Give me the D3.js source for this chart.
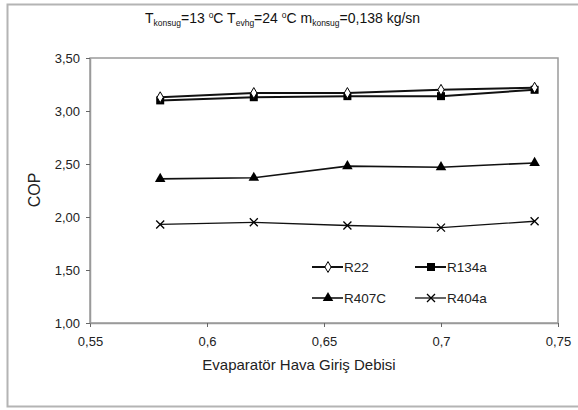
<!DOCTYPE html>
<html><head><meta charset="utf-8">
<script src="https://cdn.jsdelivr.net/npm/d3@7"></script>
<style>body{margin:0;background:#fff}svg{display:block;font-family:Arial,"Liberation Sans",sans-serif}</style>
</head><body>
<svg id="c" width="578" height="410"></svg>
<script>
const xValues = [0.58, 0.62, 0.66, 0.70, 0.74];
const r22 = [3.13, 3.17, 3.17, 3.20, 3.22];
const r134a = [3.10, 3.13, 3.14, 3.14, 3.20];
const r407c = [2.36, 2.37, 2.48, 2.47, 2.51];
const r404a = [1.93, 1.95, 1.92, 1.90, 1.96];
const xTicks = [0.55, 0.6, 0.65, 0.7, 0.75];
const xTickLabels = ["0,55", "0,6", "0,65", "0,7", "0,75"];
const yTicks = [1.0, 1.5, 2.0, 2.5, 3.0, 3.5];
const yTickLabels = ["1,00", "1,50", "2,00", "2,50", "3,00", "3,50"];
const seriesNames = ["R22", "R134a", "R407C", "R404a"];

const svg = d3.select("#c");
const L = 90, R = 558, T = 58, B = 323;
const x = d3.scaleLinear().domain([0.55, 0.75]).range([L, R]);
const y = d3.scaleLinear().domain([1.0, 3.5]).range([B, T]);

// outer frame
svg.append("path").attr("d", "M578,4.5 H7.5 V406.5 H578").attr("fill", "none").attr("stroke", "#b4b4b4").attr("stroke-width", 2);

// plot box
svg.append("rect").attr("x", L).attr("y", T).attr("width", R - L).attr("height", B - T)
  .attr("fill", "none").attr("stroke", "#9a9a9a").attr("stroke-width", 1.5);

// axes
const xAxis = svg.append("g").attr("transform", `translate(0,${B})`)
  .call(d3.axisBottom(x).tickValues(xTicks).tickFormat((d, i) => xTickLabels[i]).tickSize(4).tickSizeOuter(0).tickPadding(10));
const yAxis = svg.append("g").attr("transform", `translate(${L},0)`)
  .call(d3.axisLeft(y).tickValues(yTicks).tickFormat((d, i) => yTickLabels[i]).tickSize(4).tickSizeOuter(0).tickPadding(6));
[xAxis, yAxis].forEach(a => {
  a.attr("font-size", 13).attr("font-family", "Arial, 'Liberation Sans', sans-serif");
  a.select(".domain").attr("stroke", "#9a9a9a").attr("stroke-width", 1.5);
  a.selectAll(".tick line").attr("stroke", "#666");
  a.selectAll("text").attr("fill", "#222");
});

// title
const title = svg.append("text").attr("x", 145).attr("y", 23).attr("font-size", 14).attr("fill", "#111");
title.append("tspan").text("T");
title.append("tspan").attr("font-size", 8.5).attr("dy", 3).text("konsug");
title.append("tspan").attr("dy", -3).text("=13 ");
title.append("tspan").attr("font-size", 8.5).attr("dy", -5).text("o");
title.append("tspan").attr("dy", 5).text("C T");
title.append("tspan").attr("font-size", 8.5).attr("dy", 3).text("evhg");
title.append("tspan").attr("dy", -3).text("=24 ");
title.append("tspan").attr("font-size", 8.5).attr("dy", -5).text("o");
title.append("tspan").attr("dy", 5).text("C m");
title.append("tspan").attr("font-size", 8.5).attr("dy", 3).text("konsug");
title.append("tspan").attr("dy", -3).text("=0,138 kg/sn");

svg.append("text").attr("transform", "translate(40,190) rotate(-90)").attr("text-anchor", "middle")
  .attr("font-size", 16).attr("fill", "#222").text("COP");
svg.append("text").attr("x", 299).attr("y", 370).attr("text-anchor", "middle")
  .attr("font-size", 15).attr("fill", "#222").text("Evaparatör Hava Giriş Debisi");

// series
const line = d3.line().x((d, i) => x(xValues[i])).y(d => y(d));
const data = [r22, r134a, r407c, r404a];
const widths = [2, 2, 1.6, 1.3];
function marker(g, k, cx, cy) {
  if (k === 0) g.append("path").attr("d", d3.symbol(d3.symbolDiamond, 34)()).attr("transform", `translate(${cx},${cy})`).attr("fill", "#fff").attr("stroke", "#000").attr("stroke-width", 1);
  else if (k === 1) g.append("rect").attr("x", cx - 4).attr("y", cy - 4).attr("width", 8).attr("height", 8).attr("fill", "#000");
  else if (k === 2) g.append("path").attr("d", d3.symbol(d3.symbolTriangle, 48)()).attr("transform", `translate(${cx},${cy})`).attr("fill", "#000");
  else g.append("path").attr("d", `M${cx-4},${cy-4}L${cx+4},${cy+4}M${cx-4},${cy+4}L${cx+4},${cy-4}`).attr("stroke", "#000").attr("stroke-width", 1.3);
}
[1, 0, 2, 3].forEach(k => {
  const g = svg.append("g");
  g.append("path").attr("d", line(data[k])).attr("fill", "none").attr("stroke", "#111").attr("stroke-width", widths[k]);
  data[k].forEach((v, i) => marker(g, k, x(xValues[i]), y(v)));
});

// legend
const legPos = [[312, 267], [415, 267], [312, 298], [415, 298]];
seriesNames.forEach((n, k) => {
  const [lx, ly] = legPos[k];
  const g = svg.append("g");
  g.append("line").attr("x1", lx).attr("x2", lx + 31).attr("y1", ly).attr("y2", ly).attr("stroke", "#111").attr("stroke-width", widths[k]);
  marker(g, k, lx + 16, ly);
  g.append("text").attr("x", lx + 32).attr("y", ly + 5).attr("font-size", 13.5).attr("fill", "#222").text(n);
});
</script>
</body></html>
